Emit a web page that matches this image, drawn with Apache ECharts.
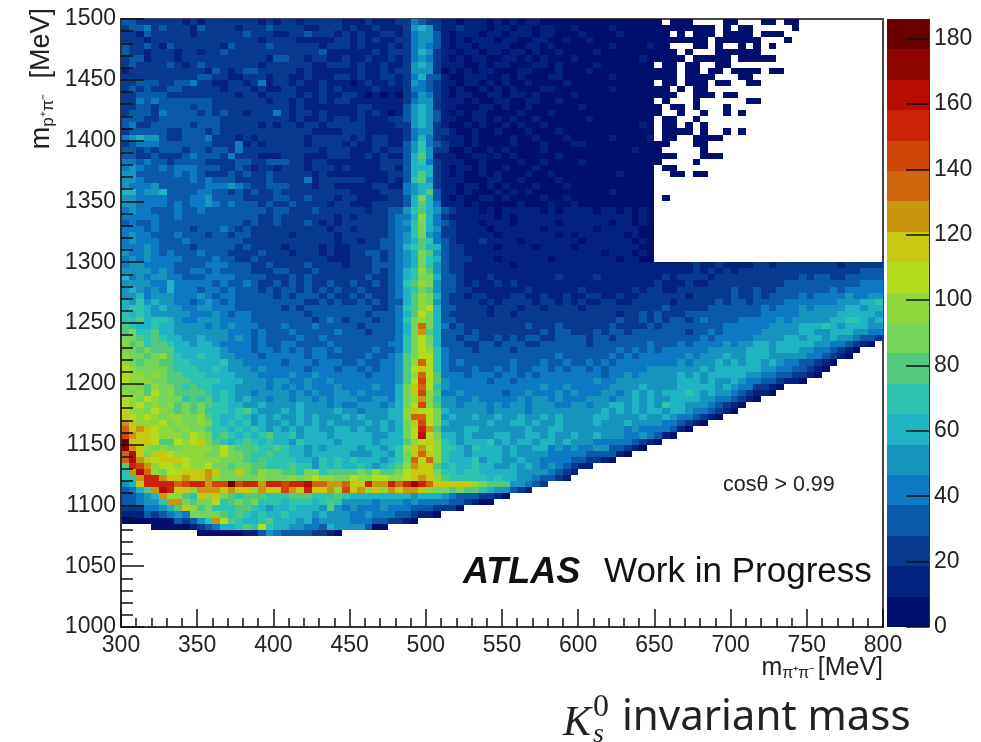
<!DOCTYPE html>
<html>
<head>
<meta charset="utf-8">
<style>html,body{margin:0;padding:0;background:#fff}#c{width:981px;height:742px}</style>
<script src="https://cdn.jsdelivr.net/npm/echarts@6/dist/echarts.min.js"></script>
</head>
<body>
<div id="c"></div>
<script>
const xTicksRange = [300, 800];
const yTicksRange = [1000, 1500];
const binWidth = 5;
const zMax = 186;
const colorbarTicks = [0, 20, 40, 60, 80, 100, 120, 140, 160, 180];
const palette = ['#000f6e','#03217f','#07398f','#0b5aa9','#0d78c3','#1895be','#1fb3c4','#2cc3af','#53c97e','#75d55a',
                 '#8fd83c','#b2dd1f','#c8c813','#c9960f','#cf650c','#cf4708','#cc2308','#b60c04','#8e0500','#6a0000'];
const levelChars = '0123456789abcdefghij';
// Colour level of each 5 MeV bin; rows run from m=1500 down, '.' is an empty bin.
const rowsFromTop = [
"3322222212 1222222212 1221222221 1121112243 2211011101 0101100000 0000000000 0.000....0 0...00.00.",
"2334232221 3222212223 2222112221 2112111256 5211211101 1011011001 0000100000 00000000.0 .00.....0.",
"2213222221 2222223222 1122322212 1211221245 5310111011 0111011000 1000010000 00.0.000.0 000.000...",
"2221222222 2222222212 2221111122 1212112245 5310101110 1100110010 0100000000 0000000.00 0000...0..",
"3223213222 2221322223 2222221222 1211121245 4310110111 1001101000 0000100001 00...00.0. .0.0.0....",
"3221222122 1223222222 2222223111 1112122246 5211011011 0110100100 0010000000 000.0...00 0000......",
"2331222122 2222222221 3322122112 1121121245 4210101100 1101010001 0000000010 0000.00000 .00000....",
"2322223212 3222222212 2222211222 1211211256 5211100101 1000110100 0010000000 .00.00..00 ..........",
"1222222222 2132123322 2221211111 1211212255 5201010110 0011000100 0100000000 000.00.00. 0000.00...",
"2222222222 3322112221 2211211122 1211221246 3310011100 1010001100 0000100000 000.0000.. .00.......",
"2233322334 2211221241 2212112111 0121121254 3211011010 1001000010 0000000000 .00.000.00 ..00......",
"2323223322 2221222121 1221112121 1112111244 3210100101 0100011000 0000100000 00.0.00... ..........",
"2233332222 2222212212 2221212112 2101010235 4210110011 0110100001 0000000000 000..000.0 0.........",
"2243433333 3322222221 2212112122 1111111245 5211101001 1001100100 0000000000 .0...0.... ..00......",
"2233233332 3322222222 2212111111 1221111356 5211000110 1001000000 1000000000 0.00.0...0 ..........",
"2333243333 2323221222 4212212111 1212101356 5310101100 0010001000 0000000000 0..0..0..0 .0........",
"3332233333 3332222222 2212112122 1211122356 5311001101 0100100000 0100000000 .00..0.... ..........",
"3422333332 3332222212 1221221222 2211112256 5210010100 1010010000 0000000010 .00.0.0... ..........",
"2333332233 3232222222 2222211112 2211111245 5221001001 0001000100 0000000000 .0000.0..0 .0........",
"4565532233 3422212122 2222122222 1212211246 4211101000 0100100010 0000100001 .00..0000. ..........",
"2344433333 3322241212 2222122221 2112211357 4321101000 0100010001 1000000000 00...00... ..........",
"3323233323 3233242222 2222221222 1112122357 5220010010 1000010000 0000000100 0.....0... ..........",
"3322322234 3332422211 1222111222 1121211368 5111001101 0100000100 0000000000 000...000. ..........",
"4434332333 3222233223 3322122111 1111222367 4211100100 0010010000 1000000000 0....0.... ..........",
"4543343444 3332232122 1222122212 1111221366 6210110100 1000100000 0000000000 .00....... ..........",
"5533333434 3222323223 2222212111 1111122368 6210100101 0001001000 0000010000 ..00.00... ..........",
"5543333334 3433322223 2222412222 2211121378 5211100011 0010000100 0000000000 .......... ..........",
"5444533333 3444543223 3322212211 1112211456 6211011010 1000100010 0000000000 .......... ..........",
"6645563333 4433232322 3222222222 1111222456 8311010001 0101000000 0000100000 .......... ..........",
"5544443334 4533332222 3322322212 2111122369 6310100110 1000010010 0000000000 .0........ ..........",
"5544443434 4543433323 2232222122 1112222368 6411101000 0010001001 0000000000 .......... ..........",
"4544333433 4333333332 3322232222 2212233578 6532111010 1111101011 1101101010",
"4444433433 3333333322 3222222212 122223446a 6421111110 1011111111 1111111010",
"3433433333 3333332322 3222321212 2222234579 6432111011 1011111011 1111011010",
"4443433332 3334323222 2222222122 1222234479 6522111101 1111101111 1101111100",
"4544333433 3233233222 2212222212 2222234579 5422111110 1111111010 1111110100",
"4544433343 3333332222 2222222212 2122334568 7432111211 1101111111 0111111010",
"4445433332 3333323222 2122221211 2222334678 6632211110 1111011110 1111111100",
"5445434333 4333222232 2212221211 2233234569 8532211111 1111111111 1110111010",
"4545444433 3343322322 2222222111 2223234569 7632221110 1111110111 1111101100",
"4554444333 3444333223 2222322221 2223334569 7532211111 1011111111 1111111111 1111121121 1112212222 2222122222",
"5555454334 4343333222 3322232222 222323467a 8532211111 1111111111 1111111111 1111121212 1222222222 2222222333",
"6454554433 3444433332 2232322222 2232234679 9633211121 1111111211 1121111111 1212222122 2222222223 2332233333",
"5555446444 4434334322 3232322322 322323478a 9533212112 1211111111 1111111111 2111211222 2222222333 3333333444",
"5654546444 3443433323 2332323232 2322234679 8533221111 1112111111 2111111212 2112222222 3223223333 3334344444",
"5564555444 5434433333 2323332322 323223468a 9632212211 1221121121 1221121122 2222122222 3223233334 3444454455",
"6575655443 4543433333 3333223232 232323368a 9532222121 2222122121 2112211222 2212222232 3323333444 4444555667",
"6776565544 5544433333 3232333333 333223478a b633222212 2212212222 1222222222 2322222333 3333434445 4555566566",
"7676555554 4454344333 3333233333 332333468b 9632222212 2122222222 2222212232 3222333333 3333444445 5555666665",
"7786776544 5554444333 3333323432 333233479a 9633222222 2222222222 2222232232 3233234333 3444445455 5556677656",
"8766766555 5454544433 3433343333 323333469e 9642322222 2223222322 2222322223 2333333334 4444455556 6676566655",
"8977866555 5555444343 3343333343 332333469d 8633323222 2222232332 2232332333 3333233434 4444555556 6556665544",
"9987876655 6555454343 3334334333 333333479b 9633233223 2323322333 3233233333 3333334344 4445555665 6656554332",
"a897887665 6654444343 3443333433 333334479b 9633322332 3332233333 3233333334 3334344445 4556656666 655443210.",
"9989888666 6665444344 3434344343 333433479b a743332333 3233333333 3333343434 3444444555 5566656665 5443210...",
"a9989a8766 7665544434 4444344333 334334589b b743333333 3333333433 3333434344 4444545556 5566655555 443210....",
"a989988776 6667554444 4344434443 34334458ae b743433333 3433343343 3434344444 4445455565 6566565443 3210......",
"ba99998777 6676555454 4444344434 43434458bc b743334334 3433443434 4343444445 5555556566 6666554433 210.......",
"baa9a98877 7666655544 4454454444 44344458ae b844434443 4434344444 4443445455 5556565666 6655443322 10........",
"baaa998887 7776665554 5544544544 44444458bf b854444434 4344444444 4454455555 5556665655 6544332110 ..........",
"9a98a99878 7766655554 5454544454 44454469ce b754444444 4444454454 4444555565 5556666656 5442210... ..........",
"a9a8b9a888 8767655455 5545454455 45444469cf a844544444 3445444545 4445545656 5666765655 432110.... ..........",
"ba9ba99978 7867656554 5545545455 54455469ad a755445444 4454554544 4555455656 5566665544 3210...... ..........",
"bab9a9a898 9877665565 5556555454 45554569bf a855455545 4554555445 5455665656 5766555432 10........ ..........",
"baa9ba9898 9777678655 5656555565 5455566acb b965555545 5554555555 5556565656 6566544321 0......... ..........",
"cbaba9aa99 a876676565 6556565556 5655566aee b956556556 5565565655 5566555565 565443210. .......... ..........",
"dcaaab9a99 a976767565 5656565655 55656569cf b965555565 5665655655 5565556555 5443210... .......... ..........",
"ecdcbaa9a9 9877676765 6565665566 56556569bg d855566555 5556556655 5555554544 44310..... .......... ..........",
"fdccbaaa9b a978767678 6675666566 66655669bh b966565556 6556656556 5565554454 310....... .......... ..........",
"jcccb88bab c987678767 6657666656 66656668ab ca76566675 6566566565 5544444321 0......... .......... ..........",
"idca9a99aa aa9b988877 8766565666 6566567acd ba77657666 5655664545 445533210. .......... .......... ..........",
"ehc9ccbaaa a99b998778 7766566666 55566579ce ca76656666 5655554444 4333310... .......... .......... ..........",
"ehdcbcccba aaa9998787 7776657676 76665679eb ea76667566 5565544443 32210..... .......... .......... ..........",
"8gfdabbaba ab99899887 7787757676 6765678adc c867667665 5656545432 11........ .......... .......... ..........",
"7dhea9bbcc cdc99c98a9 9887997888 898a889bcc c977677666 6655554321 .......... .......... .......... ..........",
"77dggdccdc cda99999a9 99a9abaa99 baabbaabcd ca87777767 665543321. .......... .......... .......... ..........",
"56cggggefg gdffjfggdg gfggheedde ccgddgegig eccccca988 855432.... .......... .......... .......... ..........",
"3468dhgcca dddcdccadc cfdcgccdaf cdacadcddc a998988765 5321...... .......... .......... .......... ..........",
"33456daa87 cac9878887 7788877787 6666666656 6654333221 0......... .......... .......... .......... ..........",
"334557dd98 99b7898977 7677767875 5554555454 444332100. .......... .......... .......... .......... ..........",
"22244568ca 8977788765 6676665854 5444544433 32220..... .......... .......... .......... .......... ..........",
"1113234549 9998787676 6766656555 4454443321 10........ .......... .......... .......... .......... ..........",
"0000000323 57db876678 6665645555 444332210. .......... .......... .......... .......... .......... ..........",
"....000001 23466787b7 6655443655 55300..... .......... .......... .......... .......... .......... ..........",
".......... 0000001135 433332210. .......... .......... .......... .......... .......... .........."
];

const levelStep = zMax / palette.length;
const cells = [];
rowsFromTop.forEach(function (raw, r) {
  const row = raw.replace(/ /g, '');
  for (let c = 0; c < row.length; c++) {
    const lev = levelChars.indexOf(row[c]);
    if (lev < 0) continue;
    cells.push([xTicksRange[0] + c * binWidth, yTicksRange[1] - (r + 1) * binWidth, (lev + 0.5) * levelStep]);
  }
});
const barCells = palette.map(function (col, i) { return [i * levelStep, (i + 1) * levelStep]; });

const labelFont = 'Liberation Sans';
const tickColor = '#111';
const plainNumber = function (v) { return String(v); };
const chart = echarts.init(document.getElementById('c'), null, { renderer: 'canvas' });

function renderCell(params, api) {
  const x = api.value(0), y = api.value(1);
  const p0 = api.coord([x, y + binWidth]);
  const p1 = api.coord([x + binWidth, y]);
  const x0 = Math.round(p0[0]), y0 = Math.round(p0[1]);
  const level = Math.min(palette.length - 1, Math.floor(api.value(2) / levelStep));
  return {
    type: 'rect',
    shape: { x: x0, y: y0, width: Math.round(p1[0]) - x0, height: Math.round(p1[1]) - y0 },
    style: { fill: palette[level] }
  };
}
function renderBar(params, api) {
  const p0 = api.coord([0, api.value(1)]);
  const p1 = api.coord([1, api.value(0)]);
  const y0 = Math.round(p0[1]);
  return {
    type: 'rect',
    shape: { x: p0[0], y: y0, width: p1[0] - p0[0], height: Math.round(p1[1]) - y0 },
    style: { fill: palette[params.dataIndex] }
  };
}

chart.setOption({
  animation: false,
  backgroundColor: '#fff',
  grid: [
    { left: 121, top: 19, width: 762, height: 608, outerBoundsMode: 'none', show: true, borderColor: '#444', borderWidth: 2, backgroundColor: '#fff' },
    { left: 887, top: 19, width: 42, height: 608, outerBoundsMode: 'none' }
  ],
  xAxis: [
    {
      type: 'value', gridIndex: 0, min: xTicksRange[0], max: xTicksRange[1], interval: 50, z: 10,
      axisLine: { show: true, onZero: false, lineStyle: { color: '#333', width: 2 } },
      axisTick: { show: true, inside: true, length: 18, lineStyle: { color: tickColor, width: 1.5 } },
      minorTick: { show: true, splitNumber: 5, length: 9, lineStyle: { color: tickColor, width: 1.5 } },
      splitLine: { show: false },
      axisLabel: { fontFamily: labelFont, fontSize: 23, color: '#222', margin: 7, formatter: plainNumber },
      name: '{m|m}{s|π⁺π⁻} {m|[MeV]}', nameLocation: 'end', nameGap: 0, nameMoveOverlap: false,
      nameTextStyle: {
        align: 'right', verticalAlign: 'top', padding: [27, 0, 0, 0],
        rich: {
          m: { fontFamily: labelFont, fontSize: 25, color: '#222', lineHeight: 28 },
          s: { fontFamily: labelFont, fontSize: 16, color: '#222', verticalAlign: 'bottom', lineHeight: 13 }
        }
      }
    },
    { type: 'value', gridIndex: 1, min: 0, max: 1, show: false }
  ],
  yAxis: [
    {
      type: 'value', gridIndex: 0, min: yTicksRange[0], max: yTicksRange[1], interval: 50, z: 10,
      axisLine: { show: true, onZero: false, lineStyle: { color: '#333', width: 2 } },
      axisTick: { show: true, inside: true, length: 23, lineStyle: { color: tickColor, width: 1.5 } },
      minorTick: { show: true, splitNumber: 5, length: 12, lineStyle: { color: tickColor, width: 1.5 } },
      splitLine: { show: false },
      axisLabel: { fontFamily: labelFont, fontSize: 23, color: '#222', margin: 5, padding: [5, 0, 0, 0], formatter: plainNumber },
      name: '{m|m}{s|p⁺π⁻}{m|  [MeV]}', nameLocation: 'end', nameRotate: 90, nameGap: 11, nameMoveOverlap: false,
      nameTextStyle: {
        align: 'right', verticalAlign: 'bottom', padding: [0, 0, 64, 0],
        rich: {
          m: { fontFamily: labelFont, fontSize: 27, color: '#222', lineHeight: 30 },
          s: { fontFamily: labelFont, fontSize: 17, color: '#222', verticalAlign: 'bottom', lineHeight: 13 }
        }
      }
    },
    {
      type: 'value', gridIndex: 1, position: 'right', min: 0, max: zMax, interval: 20, z: 10,
      axisLine: { show: true, onZero: false, lineStyle: { color: '#333', width: 1 } },
      axisTick: { show: true, inside: true, length: 23, customValues: colorbarTicks, lineStyle: { color: tickColor, width: 1.5 } },
      splitLine: { show: false },
      axisLabel: { fontFamily: labelFont, fontSize: 23, color: '#222', margin: 5, padding: [6, 0, 0, 0], customValues: colorbarTicks, formatter: plainNumber }
    }
  ],
  series: [
    {
      type: 'custom', xAxisIndex: 0, yAxisIndex: 0, data: cells, renderItem: renderCell,
      encode: { x: 0, y: 1 }, silent: true, clip: true
    },
    {
      type: 'custom', xAxisIndex: 1, yAxisIndex: 1, data: barCells, renderItem: renderBar,
      encode: { y: [0, 1] }, silent: true
    }
  ],
  graphic: [
    { type: 'text', left: 723, top: 474, style: { text: 'cosθ > 0.99', font: '21.5px "Liberation Sans"', fill: '#222' } },
    { type: 'text', left: 463, top: 555, style: { text: 'ATLAS', font: 'italic bold 36px "Liberation Sans"', fill: '#111' } },
    { type: 'text', left: 604, top: 555, style: { text: 'Work in Progress', font: '35px "Liberation Sans"', fill: '#111' } },
    { type: 'text', left: 563, top: 703, style: { text: 'K', font: 'italic 42px "Liberation Serif"', fill: '#222' } },
    { type: 'text', left: 593, top: 721, style: { text: 's', font: 'italic 28px "Liberation Serif"', fill: '#222' } },
    { type: 'text', left: 593, top: 692, style: { text: '0', font: '32px "Liberation Serif"', fill: '#222' } },
    { type: 'text', left: 622, top: 697, style: { text: 'invariant mass', font: '42px "Noto Sans"', fill: '#222' } }
  ]
});
</script>
</body>
</html>
